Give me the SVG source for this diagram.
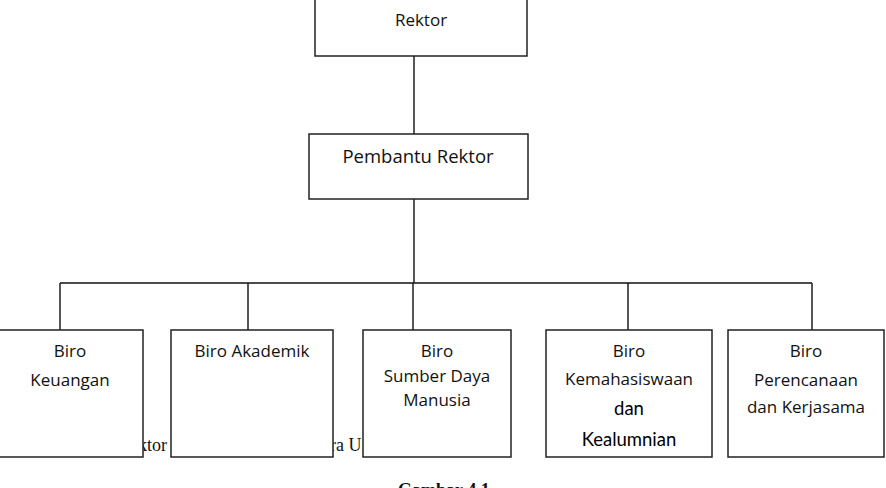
<svg xmlns="http://www.w3.org/2000/svg" width="886" height="488" viewBox="0 0 886 488">
<style>
.box{fill:#fff;stroke:#222;stroke-width:1.5}
.ln{stroke:#111;stroke-width:1.4;fill:none}
.t{font-family:"Open Sans","Noto Sans",sans-serif;font-size:17px;fill:#111;text-anchor:middle}
.t2{font-family:Lato,"Open Sans",sans-serif;font-size:18.5px;fill:#000;text-anchor:middle}
.bg{font-family:"Liberation Serif",serif;font-size:18px;fill:#111}
</style>
<rect width="886" height="488" fill="#fff"/>
<text class="bg" x="138" y="451">ktor</text>
<text class="bg" x="330" y="451">ra U</text>
<text x="398" y="496" style="font-family:'Liberation Serif',serif;font-size:18px;font-weight:bold;fill:#111">Gambar 4.1</text>
<g id="connectors">
<path class="ln" d="M414 56V134M414 199V283M60 283H812M60 283V330M248 283V330M413 283V330M628 283V330M812 283V330"/>
</g>
<g id="rektor"><rect class="box" x="315" y="-5" width="212" height="61"/><text class="t" x="421" y="26">Rektor</text></g>
<g id="pembantu"><rect class="box" x="309" y="134" width="219" height="65"/><text class="t" x="418" y="163" style="font-size:18.5px">Pembantu Rektor</text></g>
<g id="keuangan"><rect class="box" x="-2" y="330" width="145" height="127"/><text class="t" x="70" y="357">Biro</text><text class="t" x="70" y="386">Keuangan</text></g>
<g id="akademik"><rect class="box" x="171" y="330" width="162" height="127"/><text class="t" x="252" y="357">Biro Akademik</text></g>
<g id="sdm"><rect class="box" x="363" y="330" width="148" height="127"/><text class="t" x="437" y="357">Biro</text><text class="t" x="437" y="382">Sumber Daya</text><text class="t" x="437" y="406">Manusia</text></g>
<g id="kemahasiswaan"><rect class="box" x="546" y="330" width="166" height="127"/><text class="t" x="629" y="357">Biro</text><text class="t" x="629" y="385">Kemahasiswaan</text><text class="t2" x="629" y="415">dan</text><text class="t2" x="629" y="446">Kealumnian</text></g>
<g id="perencanaan"><rect class="box" x="728" y="330" width="156" height="127"/><text class="t" x="806" y="357">Biro</text><text class="t" x="806" y="386">Perencanaan</text><text class="t" x="806" y="413">dan Kerjasama</text></g>
</svg>
